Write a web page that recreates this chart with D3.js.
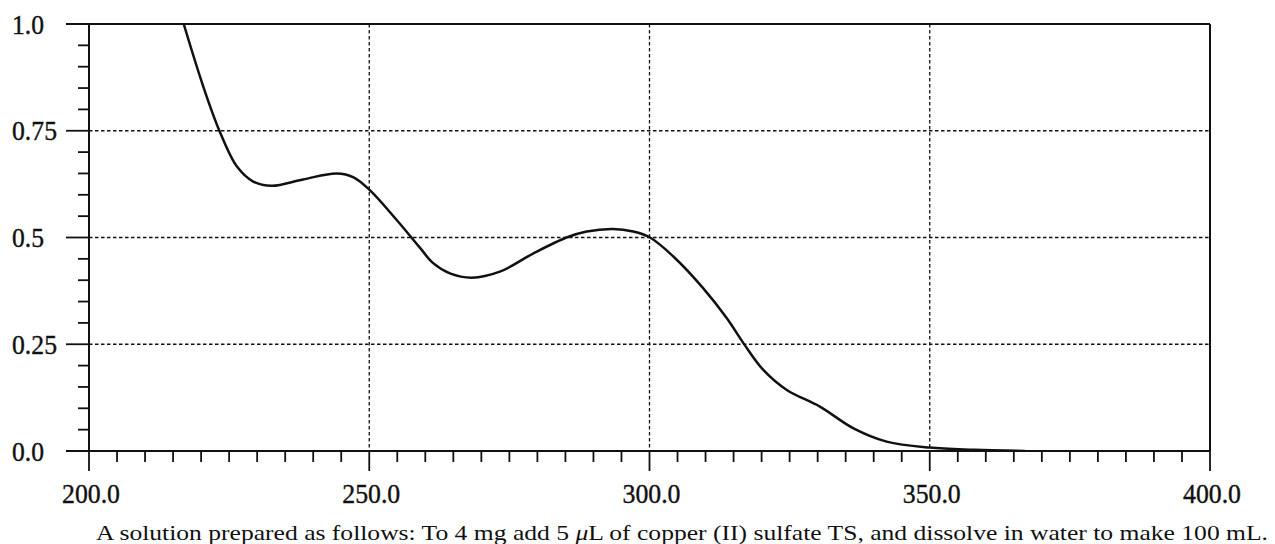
<!DOCTYPE html>
<html>
<head>
<meta charset="utf-8">
<script src="https://cdn.jsdelivr.net/npm/d3@7"></script>
<style>
  html, body { margin: 0; padding: 0; background: #fff; }
  svg { display: block; }
</style>
</head>
<body>
<svg id="chart" width="1275" height="544"></svg>
<script>
// ---- data ----
const wavelengths = [215.8, 216.9, 220.4, 223.3, 226.4, 229.3, 232.6, 238.2, 244.2, 247.2, 250.1, 254.9, 259.1, 261.4, 264.4, 268.3, 273.3, 279.3, 285.2, 288.8, 293.5, 297.1, 300.1, 304.3, 309.6, 313.8, 317.0, 320.3, 324.5, 330.4, 336.4, 342.3, 350.0, 358.0, 367.0];
const absorbance  = [1.05, 1.0, 0.853, 0.749, 0.666, 0.631, 0.621, 0.636, 0.650, 0.641, 0.611, 0.541, 0.475, 0.440, 0.416, 0.406, 0.420, 0.463, 0.500, 0.514, 0.520, 0.514, 0.500, 0.455, 0.381, 0.311, 0.248, 0.190, 0.143, 0.104, 0.053, 0.022, 0.008, 0.003, 0.0];
const xTickValues = [200, 250, 300, 350, 400];
const xTickLabels = ["200.0", "250.0", "300.0", "350.0", "400.0"];
const yTickValues = [0, 0.25, 0.5, 0.75, 1.0];
const yTickLabels = ["0.0", "0.25", "0.5", "0.75", "1.0"];
const xGrid = [250, 300, 350];
const yGrid = [0.25, 0.5, 0.75];
const captionParts = [
  {t: "A solution prepared as follows: To 4 mg add 5 ", italic: false},
  {t: "\u03bc", italic: true},
  {t: "L of copper (II) sulfate TS, and dissolve in water to make 100 mL.", italic: false}
];

// ---- layout ----
const svg = d3.select("#chart");
const L = 89, R = 1210, T = 24, B = 451;
const x = d3.scaleLinear().domain([200, 400]).range([L, R]);
const y = d3.scaleLinear().domain([0, 1]).range([B, T]);
const ink = "#111";
const font = "'Liberation Serif', 'Times New Roman', serif";

// gridlines
const grid = svg.append("g").attr("stroke", ink).attr("stroke-width", 1.3).attr("stroke-dasharray", "3.5,2.5");
grid.selectAll("line.vx").data(xGrid).join("line")
  .attr("x1", d => x(d)).attr("x2", d => x(d)).attr("y1", T).attr("y2", B);
grid.selectAll("line.hy").data(yGrid).join("line")
  .attr("x1", L).attr("x2", R).attr("y1", d => y(d)).attr("y2", d => y(d));

// minor ticks
const minorX = d3.range(200, 400.01, 5).filter(v => v % 50 !== 0);
const minorY = d3.range(0, 1.0001, 0.05).map(v => +v.toFixed(2)).filter(v => Math.round(v * 100) % 25 !== 0);
const ticks = svg.append("g").attr("stroke", ink).attr("stroke-width", 1.8);
ticks.selectAll("line.mx").data(minorX).join("line")
  .attr("x1", d => x(d)).attr("x2", d => x(d)).attr("y1", B).attr("y2", B + 11);
ticks.selectAll("line.Mx").data(xTickValues).join("line")
  .attr("x1", d => x(d)).attr("x2", d => x(d)).attr("y1", B).attr("y2", B + 20);
ticks.selectAll("line.my").data(minorY).join("line")
  .attr("x1", L - 11).attr("x2", L).attr("y1", d => y(d)).attr("y2", d => y(d));
ticks.selectAll("line.My").data(yTickValues).join("line")
  .attr("x1", L - 23).attr("x2", L).attr("y1", d => y(d)).attr("y2", d => y(d));

// frame
const frame = svg.append("g").attr("stroke", ink).attr("stroke-width", 2).attr("fill", "none");
frame.append("line").attr("x1", L - 23).attr("x2", R).attr("y1", T).attr("y2", T);
frame.append("line").attr("x1", L - 23).attr("x2", R).attr("y1", B).attr("y2", B);
frame.append("line").attr("x1", L).attr("x2", L).attr("y1", T).attr("y2", B);
frame.append("line").attr("x1", R).attr("x2", R).attr("y1", T).attr("y2", B);

// curve
svg.append("clipPath").attr("id", "plotclip").append("rect")
  .attr("x", L).attr("y", T).attr("width", R - L).attr("height", B - T);
const pts = wavelengths.map((w, i) => [w, absorbance[i]]);
const line = d3.line().x(d => x(d[0])).y(d => y(d[1])).curve(d3.curveCatmullRom.alpha(0.5));
svg.append("path").datum(pts)
  .attr("clip-path", "url(#plotclip)")
  .attr("d", line)
  .attr("fill", "none").attr("stroke", ink).attr("stroke-width", 2.5)
  .attr("stroke-linejoin", "round");

// tick labels (condensed serif digits)
const labelWidth = s => s.replace(/\./g, "").length * 13 + 6;
svg.append("g").selectAll("text").data(xTickValues).join("text")
  .attr("x", d => x(d) + 2).attr("y", 503)
  .attr("text-anchor", "middle")
  .attr("font-family", font).attr("font-size", 27).attr("fill", ink)
  .attr("stroke", ink).attr("stroke-width", 0.4)
  .attr("textLength", (d, i) => labelWidth(xTickLabels[i]))
  .attr("lengthAdjust", "spacingAndGlyphs")
  .text((d, i) => xTickLabels[i]);
svg.append("g").selectAll("text").data(yTickValues).join("text")
  .attr("x", 12).attr("y", d => y(d) + 9.5)
  .attr("text-anchor", "start")
  .attr("font-family", font).attr("font-size", 27).attr("fill", ink)
  .attr("stroke", ink).attr("stroke-width", 0.4)
  .attr("textLength", (d, i) => labelWidth(yTickLabels[i]))
  .attr("lengthAdjust", "spacingAndGlyphs")
  .text((d, i) => yTickLabels[i]);

// caption
const cap = svg.append("text")
  .attr("x", 96).attr("y", 540)
  .attr("font-family", font).attr("font-size", 22).attr("fill", ink)
  .attr("textLength", 1172).attr("lengthAdjust", "spacingAndGlyphs");
cap.selectAll("tspan").data(captionParts).join("tspan")
  .attr("font-style", d => d.italic ? "italic" : "normal")
  .text(d => d.t);
</script>
</body>
</html>
